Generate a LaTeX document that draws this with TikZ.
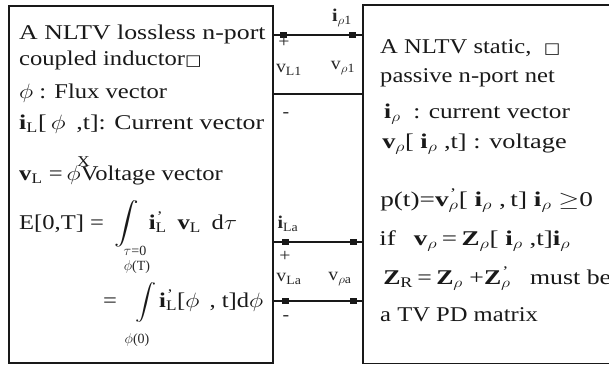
\documentclass[tikz,border=0pt]{standalone}
\usepackage{fontspec}
\setmainfont{Liberation Serif}
\newfontfamily\dvsans{DejaVu Sans}
\newcommand\bx{{\dvsans\fontsize{15}{15}\selectfont □}}
\newcommand\bi{\textbf{i}}
\newcommand\bv{\textbf{v}}
\newcommand\bZ{\textbf{Z}}
\newcommand\sub[1]{\textsubscript{#1}}
\newcommand\tsub[1]{\rlap{\textsuperscript{\kern1pt '}}\textsubscript{#1}}
\newcommand\rh{$\rho$}
\newcommand\bigint[1]{\scalebox{#1}{\fontsize{10}{12}\selectfont$\displaystyle\int$}}
\begin{document}
\begin{tikzpicture}[x=1pt,y=-1pt,
  box/.style={draw=black!90, line width=1.6pt, inner sep=0, anchor=north west},
  txt/.style={anchor=base west, inner sep=0, font=\fontsize{21}{24}\selectfont, xscale=1.17, text=black!90},
  lim/.style={inner sep=0, font=\fontsize{14}{15}\selectfont, text=black!85},
  lbl/.style={inner sep=0, font=\fontsize{18}{19}\selectfont, xscale=1.1, text=black!85},
  wire/.style={line width=1.6pt, draw=black!90},
  term/.style={fill=black!90, minimum width=7pt, minimum height=6pt, inner sep=0, draw=none}]
\useasboundingbox (0,0) rectangle (609,365);
\clip (0,0) rectangle (609,365);
\fill[white] (0,0) rectangle (609,365);
% boxes
\node[box, minimum width=264pt, minimum height=357pt] (L) at (8,5) {};
\node[box, draw=none, minimum width=330pt, minimum height=357pt] (R) at (363,5) {};
\draw[wire] (R.north east) -- (R.north west) -- (R.south west) -- (R.south east);
% wire levels
\coordinate (y1) at (0,35);
\coordinate (y2) at (0,94);
\coordinate (y3) at (0,242);
\coordinate (y4) at (0,301);
\draw[wire] (L.east |- y1) -- (R.west |- y1);
\draw[wire] (L.east |- y2) -- (R.west |- y2);
\draw[wire] (L.east |- y3) -- (R.west |- y3);
\draw[wire] (L.east |- y4) -- (R.west |- y4);
% terminals
\node[term] (t1a) at (283,35) {};
\node[term] (t1b) at (352,35) {};
\node[term] (t3a) at (285,242) {};
\node[term] (t3b) at (353,242) {};
\node[term] (t4a) at (285,301) {};
\node[term] (t4b) at (353,301) {};
% port labels
\node[lbl] (ip1) at (342,18) {\bi\sub{\rh1}};
\node[lbl] (pl1) at (284,42) {+};
\node[lbl] (vL1) at (289,70) {v\sub{L1}};
\node[lbl] (vp1) at (343,68) {v\sub{\rh1}};
\node[lbl] (mi1) at (286,115) {-};
\node[lbl] (iLn) at (288,224) {\bi\sub{La}};
\node[lbl] (pln) at (285,256) {+};
\node[lbl] (vLn) at (289,279) {v\sub{La}};
\node[lbl] (vpn) at (340,279) {v\sub{\rh a}};
\node[lbl] (min) at (286,318) {-};
% left text
\node[txt, xscale=1.05] (l1) at (19,39) {A NLTV lossless n-port};
\node[txt] (l2) at (19,65) {coupled inductor\bx};
\node[txt] (l3) at (19,98) {$\phi$ : Flux vector};
\node[txt, xscale=1.05] (l4) at (19,129) {\bi\sub{L}[\,$\phi$\, ,t]: Current vector};
\node[txt] (l5) at (19,180) {\bv\sub{L} =\,\rlap{\kern9pt\raisebox{14pt}{\fontsize{15}{15}\selectfont X}}$\phi$Voltage vector};
\node[txt] (l6) at (19,229) {E[0,T] =\hspace{9pt}\bigint{2.1}\hspace{3pt} \bi\tsub{L}\hspace{4pt} \bv\sub{L}\hspace{4pt} d$\tau$};
\node[lim] (lim1) at (135,251) {$\tau$=0};
\node[lim] (lim2) at (137,267) {$\phi$(T)};
\node[txt] (l7) at (103,307) {=\hspace{16pt}\bigint{1.8}\hspace{2pt}\bi\tsub{L}[$\phi$\, , t]d$\phi$};
\node[lim] (lim3) at (137,340) {$\phi$(0)};
% right text
\node[txt] (r1) at (380,53) {A NLTV static,\ \ \bx};
\node[txt] (r2) at (380,82) {passive n-port net};
\node[txt, xscale=1.03] (r3) at (384,118) {\bi\sub{\rh}\ \ : current vector};
\node[txt, xscale=1.07] (r4) at (382,148) {\bv\sub{\rh}[\ \bi\sub{\rh}\ ,t] : voltage};
\node[txt, xscale=1.11] (r5) at (380,206) {p(t)=\bv\tsub{\rh}[\ \bi\sub{\rh}\ ,\,t]\ \bi\sub{\rh}\ $\geq$0};
\node[txt, xscale=1.1] (r6) at (379,245) {if\hspace{14pt}\bv\sub{\rh}\,=\,\bZ\sub{\rh}[\ \bi\sub{\rh}\ ,t]\bi\sub{\rh}};
\node[txt, xscale=1.05] (r7) at (383,284) {\bZ\sub{R}\,=\,\bZ\sub{\rh}\ +\bZ\tsub{\rh}\ \ \ must be};
\node[txt] (r8) at (380,321) {a TV PD matrix};
\end{tikzpicture}
\end{document}
